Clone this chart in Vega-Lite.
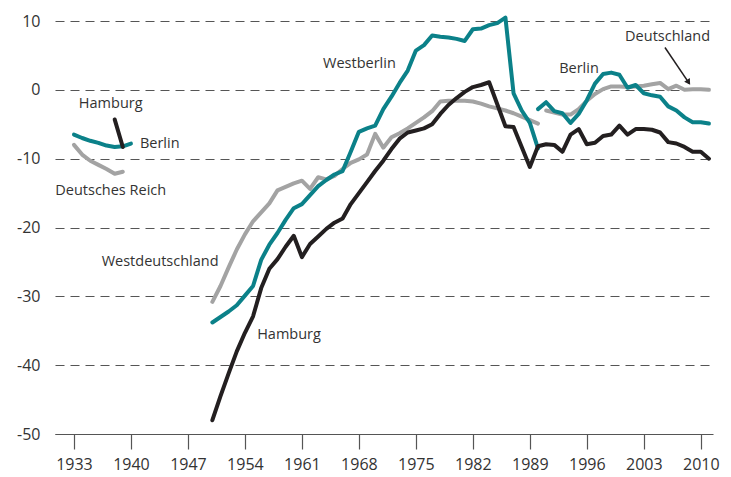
{
  "$schema": "https://vega.github.io/schema/vega-lite/v6.json",
  "width": 658,
  "height": 413,
  "autosize": {"type": "none"},
  "padding": {"left": 55, "top": 21, "right": 18, "bottom": 43},
  "background": "white",
  "config": {
    "view": {"stroke": null},
    "font": "Open Sans",
    "axis": {"labelFont": "Open Sans", "labelFontSize": 16, "labelColor": "#333333", "title": null}
  },
  "datasets": {
    "lines": [
      {"series": "Deutsches Reich", "year": 1933, "value": -8.0},
      {"series": "Deutsches Reich", "year": 1934, "value": -9.4},
      {"series": "Deutsches Reich", "year": 1935, "value": -10.3},
      {"series": "Deutsches Reich", "year": 1936, "value": -10.9},
      {"series": "Deutsches Reich", "year": 1937, "value": -11.5},
      {"series": "Deutsches Reich", "year": 1938, "value": -12.2},
      {"series": "Deutsches Reich", "year": 1939, "value": -11.9},

      {"series": "Berlin (1933-1940)", "year": 1933, "value": -6.5},
      {"series": "Berlin (1933-1940)", "year": 1934, "value": -7.0},
      {"series": "Berlin (1933-1940)", "year": 1935, "value": -7.4},
      {"series": "Berlin (1933-1940)", "year": 1936, "value": -7.7},
      {"series": "Berlin (1933-1940)", "year": 1937, "value": -8.1},
      {"series": "Berlin (1933-1940)", "year": 1938, "value": -8.3},
      {"series": "Berlin (1933-1940)", "year": 1939, "value": -8.2},
      {"series": "Berlin (1933-1940)", "year": 1940, "value": -7.8},

      {"series": "Hamburg (1938-1939)", "year": 1938, "value": -4.3},
      {"series": "Hamburg (1938-1939)", "year": 1939, "value": -8.3},

      {"series": "Westdeutschland", "year": 1950, "value": -30.8},
      {"series": "Westdeutschland", "year": 1951, "value": -28.5},
      {"series": "Westdeutschland", "year": 1952, "value": -25.8},
      {"series": "Westdeutschland", "year": 1953, "value": -23.2},
      {"series": "Westdeutschland", "year": 1954, "value": -21.0},
      {"series": "Westdeutschland", "year": 1955, "value": -19.1},
      {"series": "Westdeutschland", "year": 1956, "value": -17.8},
      {"series": "Westdeutschland", "year": 1957, "value": -16.5},
      {"series": "Westdeutschland", "year": 1958, "value": -14.6},
      {"series": "Westdeutschland", "year": 1959, "value": -14.1},
      {"series": "Westdeutschland", "year": 1960, "value": -13.6},
      {"series": "Westdeutschland", "year": 1961, "value": -13.2},
      {"series": "Westdeutschland", "year": 1962, "value": -14.4},
      {"series": "Westdeutschland", "year": 1963, "value": -12.7},
      {"series": "Westdeutschland", "year": 1964, "value": -13.0},
      {"series": "Westdeutschland", "year": 1965, "value": -12.5},
      {"series": "Westdeutschland", "year": 1966, "value": -11.5},
      {"series": "Westdeutschland", "year": 1967, "value": -10.6},
      {"series": "Westdeutschland", "year": 1968, "value": -10.1},
      {"series": "Westdeutschland", "year": 1969, "value": -9.4},
      {"series": "Westdeutschland", "year": 1970, "value": -6.4},
      {"series": "Westdeutschland", "year": 1971, "value": -8.4},
      {"series": "Westdeutschland", "year": 1972, "value": -6.9},
      {"series": "Westdeutschland", "year": 1973, "value": -6.3},
      {"series": "Westdeutschland", "year": 1974, "value": -5.6},
      {"series": "Westdeutschland", "year": 1975, "value": -4.8},
      {"series": "Westdeutschland", "year": 1976, "value": -4.0},
      {"series": "Westdeutschland", "year": 1977, "value": -3.1},
      {"series": "Westdeutschland", "year": 1978, "value": -1.7},
      {"series": "Westdeutschland", "year": 1979, "value": -1.6},
      {"series": "Westdeutschland", "year": 1980, "value": -1.6},
      {"series": "Westdeutschland", "year": 1981, "value": -1.6},
      {"series": "Westdeutschland", "year": 1982, "value": -1.7},
      {"series": "Westdeutschland", "year": 1983, "value": -2.0},
      {"series": "Westdeutschland", "year": 1984, "value": -2.4},
      {"series": "Westdeutschland", "year": 1985, "value": -2.7},
      {"series": "Westdeutschland", "year": 1986, "value": -3.0},
      {"series": "Westdeutschland", "year": 1987, "value": -3.4},
      {"series": "Westdeutschland", "year": 1988, "value": -3.9},
      {"series": "Westdeutschland", "year": 1989, "value": -4.4},
      {"series": "Westdeutschland", "year": 1990, "value": -4.9},

      {"series": "Deutschland", "year": 1991, "value": -3.0},
      {"series": "Deutschland", "year": 1992, "value": -3.3},
      {"series": "Deutschland", "year": 1993, "value": -3.6},
      {"series": "Deutschland", "year": 1994, "value": -3.6},
      {"series": "Deutschland", "year": 1995, "value": -2.8},
      {"series": "Deutschland", "year": 1996, "value": -1.6},
      {"series": "Deutschland", "year": 1997, "value": -0.6},
      {"series": "Deutschland", "year": 1998, "value": 0.1},
      {"series": "Deutschland", "year": 1999, "value": 0.5},
      {"series": "Deutschland", "year": 2000, "value": 0.5},
      {"series": "Deutschland", "year": 2001, "value": 0.4},
      {"series": "Deutschland", "year": 2002, "value": 0.5},
      {"series": "Deutschland", "year": 2003, "value": 0.6},
      {"series": "Deutschland", "year": 2004, "value": 0.8},
      {"series": "Deutschland", "year": 2005, "value": 1.0},
      {"series": "Deutschland", "year": 2006, "value": 0.1},
      {"series": "Deutschland", "year": 2007, "value": 0.6},
      {"series": "Deutschland", "year": 2008, "value": 0.0},
      {"series": "Deutschland", "year": 2009, "value": 0.1},
      {"series": "Deutschland", "year": 2010, "value": 0.1},
      {"series": "Deutschland", "year": 2011, "value": 0.0},

      {"series": "Westberlin", "year": 1950, "value": -33.8},
      {"series": "Westberlin", "year": 1951, "value": -33.0},
      {"series": "Westberlin", "year": 1952, "value": -32.2},
      {"series": "Westberlin", "year": 1953, "value": -31.3},
      {"series": "Westberlin", "year": 1954, "value": -29.9},
      {"series": "Westberlin", "year": 1955, "value": -28.5},
      {"series": "Westberlin", "year": 1956, "value": -24.7},
      {"series": "Westberlin", "year": 1957, "value": -22.5},
      {"series": "Westberlin", "year": 1958, "value": -20.8},
      {"series": "Westberlin", "year": 1959, "value": -18.9},
      {"series": "Westberlin", "year": 1960, "value": -17.2},
      {"series": "Westberlin", "year": 1961, "value": -16.6},
      {"series": "Westberlin", "year": 1962, "value": -15.3},
      {"series": "Westberlin", "year": 1963, "value": -14.0},
      {"series": "Westberlin", "year": 1964, "value": -13.1},
      {"series": "Westberlin", "year": 1965, "value": -12.3},
      {"series": "Westberlin", "year": 1966, "value": -11.8},
      {"series": "Westberlin", "year": 1967, "value": -9.0},
      {"series": "Westberlin", "year": 1968, "value": -6.1},
      {"series": "Westberlin", "year": 1969, "value": -5.6},
      {"series": "Westberlin", "year": 1970, "value": -5.2},
      {"series": "Westberlin", "year": 1971, "value": -2.8},
      {"series": "Westberlin", "year": 1972, "value": -1.0},
      {"series": "Westberlin", "year": 1973, "value": 1.0},
      {"series": "Westberlin", "year": 1974, "value": 2.8},
      {"series": "Westberlin", "year": 1975, "value": 5.7},
      {"series": "Westberlin", "year": 1976, "value": 6.5},
      {"series": "Westberlin", "year": 1977, "value": 7.9},
      {"series": "Westberlin", "year": 1978, "value": 7.7},
      {"series": "Westberlin", "year": 1979, "value": 7.6},
      {"series": "Westberlin", "year": 1980, "value": 7.4},
      {"series": "Westberlin", "year": 1981, "value": 7.1},
      {"series": "Westberlin", "year": 1982, "value": 8.8},
      {"series": "Westberlin", "year": 1983, "value": 8.9},
      {"series": "Westberlin", "year": 1984, "value": 9.4},
      {"series": "Westberlin", "year": 1985, "value": 9.7},
      {"series": "Westberlin", "year": 1986, "value": 10.5},
      {"series": "Westberlin", "year": 1987, "value": -0.5},
      {"series": "Westberlin", "year": 1988, "value": -3.0},
      {"series": "Westberlin", "year": 1989, "value": -4.8},
      {"series": "Westberlin", "year": 1990, "value": -8.5},

      {"series": "Berlin", "year": 1990, "value": -2.8},
      {"series": "Berlin", "year": 1991, "value": -1.8},
      {"series": "Berlin", "year": 1992, "value": -3.1},
      {"series": "Berlin", "year": 1993, "value": -3.4},
      {"series": "Berlin", "year": 1994, "value": -4.8},
      {"series": "Berlin", "year": 1995, "value": -3.5},
      {"series": "Berlin", "year": 1996, "value": -1.5},
      {"series": "Berlin", "year": 1997, "value": 0.9},
      {"series": "Berlin", "year": 1998, "value": 2.3},
      {"series": "Berlin", "year": 1999, "value": 2.5},
      {"series": "Berlin", "year": 2000, "value": 2.2},
      {"series": "Berlin", "year": 2001, "value": 0.3},
      {"series": "Berlin", "year": 2002, "value": 0.7},
      {"series": "Berlin", "year": 2003, "value": -0.5},
      {"series": "Berlin", "year": 2004, "value": -0.8},
      {"series": "Berlin", "year": 2005, "value": -1.0},
      {"series": "Berlin", "year": 2006, "value": -2.4},
      {"series": "Berlin", "year": 2007, "value": -3.0},
      {"series": "Berlin", "year": 2008, "value": -4.0},
      {"series": "Berlin", "year": 2009, "value": -4.7},
      {"series": "Berlin", "year": 2010, "value": -4.7},
      {"series": "Berlin", "year": 2011, "value": -4.9},

      {"series": "Hamburg", "year": 1950, "value": -48.0},
      {"series": "Hamburg", "year": 1951, "value": -44.5},
      {"series": "Hamburg", "year": 1952, "value": -41.2},
      {"series": "Hamburg", "year": 1953, "value": -38.0},
      {"series": "Hamburg", "year": 1954, "value": -35.3},
      {"series": "Hamburg", "year": 1955, "value": -32.9},
      {"series": "Hamburg", "year": 1956, "value": -28.8},
      {"series": "Hamburg", "year": 1957, "value": -26.0},
      {"series": "Hamburg", "year": 1958, "value": -24.6},
      {"series": "Hamburg", "year": 1959, "value": -22.8},
      {"series": "Hamburg", "year": 1960, "value": -21.2},
      {"series": "Hamburg", "year": 1961, "value": -24.3},
      {"series": "Hamburg", "year": 1962, "value": -22.4},
      {"series": "Hamburg", "year": 1963, "value": -21.3},
      {"series": "Hamburg", "year": 1964, "value": -20.2},
      {"series": "Hamburg", "year": 1965, "value": -19.3},
      {"series": "Hamburg", "year": 1966, "value": -18.7},
      {"series": "Hamburg", "year": 1967, "value": -16.6},
      {"series": "Hamburg", "year": 1968, "value": -15.0},
      {"series": "Hamburg", "year": 1969, "value": -13.4},
      {"series": "Hamburg", "year": 1970, "value": -11.8},
      {"series": "Hamburg", "year": 1971, "value": -10.3},
      {"series": "Hamburg", "year": 1972, "value": -8.6},
      {"series": "Hamburg", "year": 1973, "value": -7.1},
      {"series": "Hamburg", "year": 1974, "value": -6.2},
      {"series": "Hamburg", "year": 1975, "value": -5.9},
      {"series": "Hamburg", "year": 1976, "value": -5.6},
      {"series": "Hamburg", "year": 1977, "value": -5.0},
      {"series": "Hamburg", "year": 1978, "value": -3.5},
      {"series": "Hamburg", "year": 1979, "value": -2.2},
      {"series": "Hamburg", "year": 1980, "value": -1.2},
      {"series": "Hamburg", "year": 1981, "value": -0.3},
      {"series": "Hamburg", "year": 1982, "value": 0.4},
      {"series": "Hamburg", "year": 1983, "value": 0.7},
      {"series": "Hamburg", "year": 1984, "value": 1.1},
      {"series": "Hamburg", "year": 1985, "value": -2.1},
      {"series": "Hamburg", "year": 1986, "value": -5.3},
      {"series": "Hamburg", "year": 1987, "value": -5.4},
      {"series": "Hamburg", "year": 1988, "value": -8.3},
      {"series": "Hamburg", "year": 1989, "value": -11.2},
      {"series": "Hamburg", "year": 1990, "value": -8.2},
      {"series": "Hamburg", "year": 1991, "value": -7.9},
      {"series": "Hamburg", "year": 1992, "value": -8.0},
      {"series": "Hamburg", "year": 1993, "value": -9.0},
      {"series": "Hamburg", "year": 1994, "value": -6.5},
      {"series": "Hamburg", "year": 1995, "value": -5.7},
      {"series": "Hamburg", "year": 1996, "value": -7.9},
      {"series": "Hamburg", "year": 1997, "value": -7.7},
      {"series": "Hamburg", "year": 1998, "value": -6.7},
      {"series": "Hamburg", "year": 1999, "value": -6.5},
      {"series": "Hamburg", "year": 2000, "value": -5.2},
      {"series": "Hamburg", "year": 2001, "value": -6.5},
      {"series": "Hamburg", "year": 2002, "value": -5.7},
      {"series": "Hamburg", "year": 2003, "value": -5.7},
      {"series": "Hamburg", "year": 2004, "value": -5.8},
      {"series": "Hamburg", "year": 2005, "value": -6.2},
      {"series": "Hamburg", "year": 2006, "value": -7.6},
      {"series": "Hamburg", "year": 2007, "value": -7.8},
      {"series": "Hamburg", "year": 2008, "value": -8.3},
      {"series": "Hamburg", "year": 2009, "value": -9.0},
      {"series": "Hamburg", "year": 2010, "value": -9.0},
      {"series": "Hamburg", "year": 2011, "value": -10.0}
    ],
    "labels": [
      {"label": "Hamburg", "year": 1933.6, "value": -2.0},
      {"label": "Berlin", "year": 1941.1, "value": -7.85},
      {"label": "Deutsches Reich", "year": 1930.7, "value": -14.7},
      {"label": "Westdeutschland", "year": 1936.4, "value": -24.95},
      {"label": "Hamburg", "year": 1955.5, "value": -35.6},
      {"label": "Westberlin", "year": 1963.6, "value": 3.8},
      {"label": "Berlin", "year": 1992.6, "value": 3.05},
      {"label": "Deutschland", "year": 2000.7, "value": 7.7}
    ],
    "arrow": [
      {"year": 2005.6, "value": 6.15, "year2": 2008.6, "value2": 0.9}
    ],
    "arrowhead": [
      {"year": 2008.5, "value": 1.1}
    ]
  },
  "encoding": {
    "x": {
      "field": "year", "type": "quantitative",
      "scale": {"domain": [1930.67, 2011.5], "nice": false, "zero": false},
      "axis": {
        "values": [1933, 1940, 1947, 1954, 1961, 1968, 1975, 1982, 1989, 1996, 2003, 2010],
        "format": "d", "grid": false, "domain": true, "domainColor": "#555555", "domainWidth": 1.2,
        "ticks": true, "tickSize": 15, "tickColor": "#555555", "tickWidth": 1.2,
        "labelPadding": 7, "labelFlush": false
      }
    },
    "y": {
      "field": "value", "type": "quantitative",
      "scale": {"domain": [-50, 10], "nice": false, "zero": false},
      "axis": {
        "values": [-50, -40, -30, -20, -10, 0, 10],
        "labelExpr": "'' + datum.value",
        "grid": true, "gridDash": [9, 6], "gridColor": "#555555", "gridWidth": 1.2,
        "domain": false, "ticks": false, "labelPadding": 15
      }
    }
  },
  "layer": [
    {
      "data": {"name": "lines"},
      "transform": [{"filter": {"field": "series", "oneOf": ["Deutsches Reich", "Westdeutschland", "Deutschland"]}}],
      "mark": {"type": "line", "color": "#a3a3a3", "strokeWidth": 4, "strokeJoin": "round", "strokeCap": "round"},
      "encoding": {"detail": {"field": "series"}}
    },
    {
      "data": {"name": "lines"},
      "transform": [{"filter": {"field": "series", "oneOf": ["Berlin (1933-1940)", "Westberlin", "Berlin"]}}],
      "mark": {"type": "line", "color": "#0b8189", "strokeWidth": 4, "strokeJoin": "round", "strokeCap": "round"},
      "encoding": {"detail": {"field": "series"}}
    },
    {
      "data": {"name": "lines"},
      "transform": [{"filter": {"field": "series", "oneOf": ["Hamburg (1938-1939)", "Hamburg"]}}],
      "mark": {"type": "line", "color": "#231f20", "strokeWidth": 4, "strokeJoin": "round", "strokeCap": "round"},
      "encoding": {"detail": {"field": "series"}}
    },
    {
      "data": {"name": "arrow"},
      "mark": {"type": "rule", "color": "#231f20", "strokeWidth": 1.5},
      "encoding": {"x2": {"field": "year2"}, "y2": {"field": "value2"}}
    },
    {
      "data": {"name": "arrowhead"},
      "mark": {"type": "point", "shape": "triangle-down", "angle": -33, "size": 45, "filled": true, "color": "#231f20", "opacity": 1, "strokeWidth": 0}
    },
    {
      "data": {"name": "labels"},
      "mark": {"type": "text", "align": "left", "baseline": "middle", "font": "Open Sans", "fontSize": 14.5, "color": "#333333"},
      "encoding": {"text": {"field": "label"}}
    }
  ]
}
